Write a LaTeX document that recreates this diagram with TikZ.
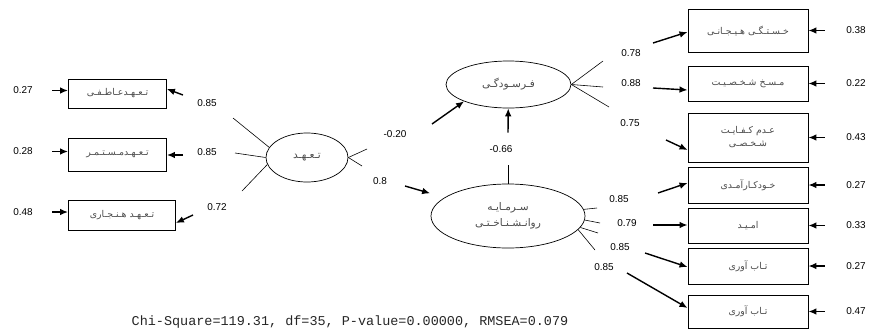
\documentclass[tikz,border=0pt]{standalone}
\usepackage{fontspec}
\setmainfont{Liberation Sans}
\setmonofont{Liberation Mono}
\newfontfamily\fafont[Script=Arabic]{DejaVu Sans}
\TeXXeTstate=1
\usepackage{tikz}
\usetikzlibrary{arrows.meta,calc,shapes.geometric}
\newcommand{\fa}[1]{{\fafont\beginR #1\endR}}
\tikzset{
  ibox/.style={draw,line width=0.8pt,rectangle,inner sep=0pt,align=center,text=black!70,font=\fafont\fontsize{8}{11}\selectfont},
  lvar/.style={draw,line width=0.6pt,ellipse,inner sep=0pt,align=center,text=black!70,font=\fafont\fontsize{9}{14}\selectfont},
  num/.style={inner sep=1pt,font=\fontsize{8.5}{10}\selectfont},
  arr/.style={line width=1.2pt,-{Latex[length=2.4mm,width=2mm]}},
  stub/.style={line width=0.5pt}
}

\begin{document}
\begin{tikzpicture}[x=0.03cm,y=-0.03cm]
  \useasboundingbox (0,0) rectangle (873,334);
  \node[lvar,minimum width=2.46cm,minimum height=1.47cm] (comm) at (307,157.5) {\fa{تـعـهـد}};
  \node[lvar,minimum width=3.75cm,minimum height=1.41cm] (burn) at (508.5,84.5) {\fa{فـرسـودگـی}};
  \node[lvar,minimum width=4.62cm,minimum height=1.92cm] (psycap) at (508,216) {\fa{سـرمـایـه}\\\fa{روانـشـنـاخـتـی}};

  % left indicators
  \foreach \n/\y/\w/\h/\txt/\err in {
    1/93.5/2.94/0.87/{تـعـهـدعـاطـفـی}/0.27,
    2/154.5/2.94/0.99/{تـعـهـدمـسـتـمـر}/0.28,
    3/215/3.21/0.90/{تـعـهـد هـنـجـاری}/0.48} {
    \node[ibox,minimum width=\w cm,minimum height=\h cm,anchor=west] (c\n) at (68,\y) {\fa{\txt}};
    \node[num] (ec\n) at (23,\y-3) {\err};
    \draw[arr,shorten <=0.55cm] (ec\n.east) -- (ec\n.east -| c\n.west);
  }
  \foreach \n/\a/\sx/\sy/\tx/\ty/\hy/\lam/\lx/\ly in {
    1/165/233/118/183/95/89/0.85/207/103,
    2/180/235/153/183/155/155/0.85/207/152,
    3/190/242/191/193/215/223/0.72/217/207} {
    \coordinate (sc\n) at (\sx,\sy);
    \coordinate (tc\n) at (\tx,\ty);
    \coordinate (hc\n) at (0,\hy);
    \draw[stub] (comm.\a) -- (sc\n);
    \draw[arr] (tc\n) -- (c\n.east |- hc\n);
    \node[num] (lc\n) at (\lx,\ly) {\lam};
  }

  % right indicators
  \foreach \n/\y/\h/\txt/\err in {
    1/30.5/1.29/{\fa{خـسـتـگـی هـیـجـانـی}}/0.38,
    2/83.5/1.05/{\fa{مـسـخ شـخـصـیـت}}/0.22,
    3/137.5/1.47/{\fa{عـدم کـفـایـت}\\\fa{شـخـصـی}}/0.43,
    4/185/1.08/{\fa{خـودکـارآمـدی}}/0.27,
    5/225.5/1.05/{\fa{امـیـد}}/0.33,
    6/266/1.08/{\fa{تـاب آوری}}/0.27,
    7/311.5/0.99/{\fa{تـاب آوری}}/0.47} {
    \node[ibox,minimum width=3.6cm,minimum height=\h cm] (r\n) at (748,\y) {\txt};
    \node[num] (er\n) at (856,\y) {\err};
    \draw[arr,shorten <=0.6cm] (er\n.west) -- (er\n.west -| r\n.east);
  }
  \foreach \n/\src/\a/\sx/\sy/\tx/\ty/\hy/\lam/\lx/\ly in {
    1/burn/0/603/61/653/43/32/0.78/631/53,
    2/burn/0/603/87/653/88/90/0.88/631/83,
    3/burn/0/609/107/666/140/150/0.75/630/123,
    4/psycap/5/597/208/658/193/183/0.85/619/199,
    5/psycap/-3/600/223/653/225/225/0.79/627/223,
    6/psycap/-9/598/233/645/253/267/0.85/620/247,
    7/psycap/-11/595/250/627/273/308/0.85/604/267} {
    \coordinate (sr\n) at (\sx,\sy);
    \coordinate (tr\n) at (\tx,\ty);
    \coordinate (hr\n) at (0,\hy);
    \draw[stub] (\src.\a) -- (sr\n);
    \draw[arr] (tr\n) -- (r\n.west |- hr\n);
    \node[num] (lr\n) at (\lx,\ly) {\lam};
  }

  % structural paths
  \coordinate (sb) at (367,149);
  \coordinate (sp) at (362,166);
  \coordinate (tb) at (432,124);
  \coordinate (tp) at (405,186);
  \draw[stub] (comm.east) -- (sb);
  \draw[stub] (comm.east) -- (sp);
  \draw[arr] (tb) -- (burn.south west);
  \draw[arr,shorten >=0.45cm] (tp) -- (psycap);
  \node[num] (lb) at (395,134) {-0.20};
  \node[num] (lp) at (380,181) {0.8};
  \node[num,inner ysep=0.38cm] (lbp) at (501,149) {-0.66};
  \draw[stub] (psycap.north) -- (psycap.north |- lbp.south);
  \draw[arr] (psycap.north |- lbp.north) -- (burn);

  \node[font=\ttfamily\fontsize{11.5}{13}\selectfont,text=black!85] (fit) at (350,322) {Chi-Square=119.31, df=35, P-value=0.00000, RMSEA=0.079};
\end{tikzpicture}
\end{document}
